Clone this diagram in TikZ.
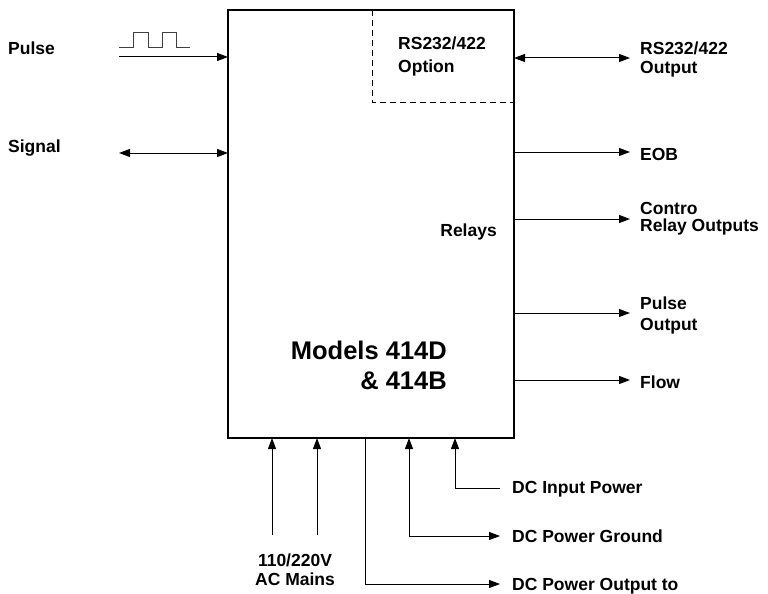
\documentclass[tikz,border=0pt]{standalone}
\usepackage{fontspec}
\setmainfont{Liberation Sans}
\usetikzlibrary{arrows.meta}

\tikzset{
  lbl/.style={font=\fontsize{17.5}{20}\selectfont\bfseries, inner sep=0pt},
  title/.style={font=\fontsize{25.5}{30}\selectfont\bfseries, inner sep=0pt, align=right},
  wire/.style={line width=1pt, -{Triangle[length=11pt,width=8pt]}},
  wireboth/.style={line width=1pt, {Triangle[length=11pt,width=8pt]}-{Triangle[length=11pt,width=8pt]}},
  wireback/.style={line width=1pt, {Triangle[length=11pt,width=8pt]}-}
}

\begin{document}
\begin{tikzpicture}[x=1pt, y=-1pt]

    % 1. Page size
    \useasboundingbox (0,0) rectangle (768,594);

    % 2. Main unit box and option area
    \coordinate (NW) at (228,10);
    \coordinate (SE) at (514,438);
    \draw[line width=2.2pt] (NW) rectangle (SE);
    \coordinate (optTop) at (372,10);
    \coordinate (optCorner) at (372,102);
    \draw[line width=1pt, dash pattern=on 6pt off 4pt] (optTop) -- (optCorner) -- (optCorner -| SE);

    % 3. Texts inside the box (base = last line)
    \node[lbl, align=left, anchor=base west] (option) at (398,72) {RS232/422\\[2pt]Option};
    \node[lbl, anchor=base east] (relays) at (497,236) {Relays};
    \node[title, anchor=base east] (models) at (447,389) {Models 414D\\\&~414B};

    % 4. Left side inputs
    \node[lbl, anchor=base west] (pulse) at (8,55) {Pulse};
    \node[lbl, anchor=base west] (signal) at (8,152) {Signal};
    \coordinate (pulseIn) at (119,57);
    \coordinate (signalIn) at (119,153);
    \draw[wire] (pulseIn) -- (pulseIn -| NW);
    \draw[wireboth] (signalIn) -- (signalIn -| NW);

    % 5. Pulse train above the pulse input
    \draw[line width=0.9pt, black!75] (119,47) -- (133,47) -- (133,32) -- (148,32) -- (148,47)
        -- (162,47) -- (162,32) -- (176,32) -- (176,47) -- (190,47);

    % 6. Right side outputs
    \coordinate (rsOut) at (630,58);
    \coordinate (eobOut) at (630,152);
    \coordinate (relayOut) at (630,219);
    \coordinate (pulseOut) at (630,313);
    \coordinate (flowOut) at (630,380);
    \draw[wireboth] (rsOut -| SE) -- (rsOut);
    \draw[wire] (eobOut -| SE) -- (eobOut);
    \draw[wire] (relayOut -| SE) -- (relayOut);
    \draw[wire] (pulseOut -| SE) -- (pulseOut);
    \draw[wire] (flowOut -| SE) -- (flowOut);

    \node[lbl, align=left, anchor=base west] (rs) at (640,74) {RS232/422\\[-1pt]Output};
    \node[lbl, anchor=base west] (eob) at (640,160) {EOB};
    \node[lbl, align=left, anchor=base west] (relay) at (640,231) {Contro\\[-3pt]Relay Outputs};
    \node[lbl, align=left, anchor=base west] (pulseo) at (640,330) {Pulse\\[1pt]Output};
    \node[lbl, anchor=base west] (flow) at (640,388) {Flow};

    % 7. Bottom power connections
    \coordinate (acA) at (272,535);
    \coordinate (acB) at (317,535);
    \draw[wire] (acA) -- (acA |- SE);
    \draw[wire] (acB) -- (acB |- SE);
    \node[lbl, align=center, anchor=base] (mains) at (295,585) {110/220V\\[-1pt]AC Mains};

    \coordinate (dcOutTap) at (365,438);
    \coordinate (dcOutEnd) at (500,584);
    \draw[wire] (dcOutTap) |- (dcOutEnd);

    \coordinate (gndTap) at (409,438);
    \coordinate (gndEnd) at (500,536);
    \draw[wireboth] (gndTap) |- (gndEnd);

    \coordinate (dcInTap) at (455,438);
    \coordinate (dcInEnd) at (500,488);
    \draw[wireback] (dcInTap) |- (dcInEnd);

    \node[lbl, anchor=base west] (dcin) at (512,493) {DC Input Power};
    \node[lbl, anchor=base west] (gnd) at (512,542) {DC Power Ground};
    \node[lbl, anchor=base west] (dcout) at (512,590) {DC Power Output to};

\end{tikzpicture}
\end{document}
